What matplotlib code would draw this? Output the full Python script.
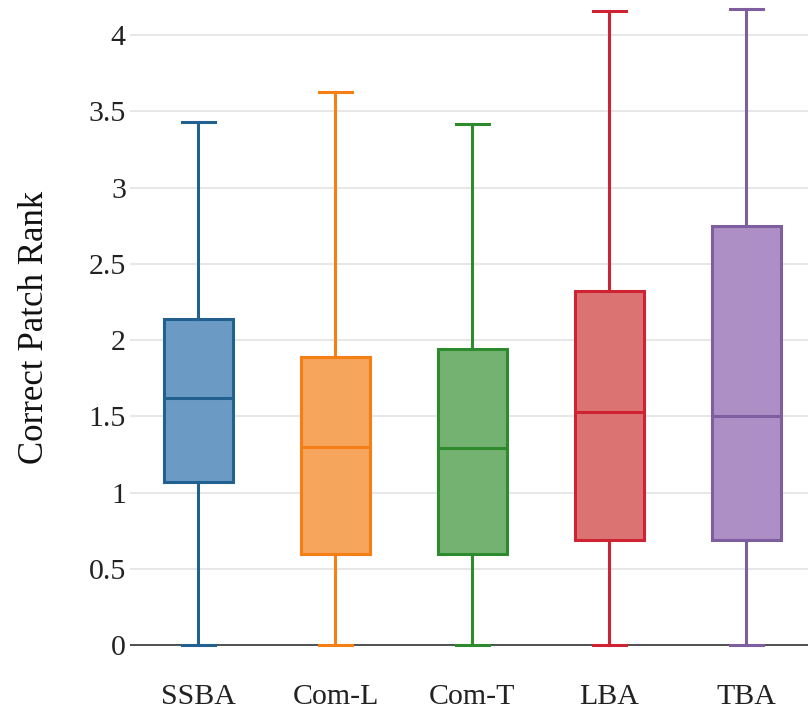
import matplotlib
matplotlib.use("Agg")
import matplotlib.pyplot as plt

categories = ["SSBA", "Com-L", "Com-T", "LBA", "TBA"]
whisker_low = [0.0, 0.0, 0.0, 0.0, 0.0]
q1 = [1.07, 0.60, 0.60, 0.69, 0.69]
median = [1.62, 1.30, 1.29, 1.53, 1.50]
q3 = [2.14, 1.89, 1.94, 2.32, 2.75]
whisker_high = [3.43, 3.63, 3.42, 4.16, 4.17]
yticks = [0, 0.5, 1, 1.5, 2, 2.5, 3, 3.5, 4]
ytick_labels = ["0", "0.5", "1", "1.5", "2", "2.5", "3", "3.5", "4"]

fill_colors = ["#6b9bc5", "#f5a55c", "#73b271", "#dc7373", "#ad8fc6"]
edge_colors = ["#21608f", "#f57f14", "#2d8a2d", "#cf2333", "#7f5ea0"]

plt.rcParams["font.family"] = ["Liberation Serif", "DejaVu Serif"]

fig = plt.figure(figsize=(8.08, 7.18), dpi=100)
ax = fig.add_axes([130 / 808, 1 - 655 / 718, 1 - 130 / 808, 655 / 718])

stats = []
for i, c in enumerate(categories):
    stats.append(dict(label=c, whislo=whisker_low[i], q1=q1[i], med=median[i],
                      q3=q3[i], whishi=whisker_high[i], fliers=[]))

positions = list(range(len(categories)))
bp = ax.bxp(stats, positions=positions, widths=0.5, patch_artist=True,
            showfliers=False, zorder=3)
for i in range(len(categories)):
    bp["boxes"][i].set_facecolor(fill_colors[i])
    bp["boxes"][i].set_edgecolor(edge_colors[i])
    bp["boxes"][i].set_linewidth(2.2)
    bp["medians"][i].set_color(edge_colors[i])
    bp["medians"][i].set_linewidth(2.2)
    for w in bp["whiskers"][2 * i:2 * i + 2]:
        w.set_color(edge_colors[i])
        w.set_linewidth(2.2)
    for cp in bp["caps"][2 * i:2 * i + 2]:
        cp.set_color(edge_colors[i])
        cp.set_linewidth(2.2)
        x = cp.get_xdata()
        cx = (x[0] + x[1]) / 2
        cp.set_xdata([cx - 0.12, cx + 0.12])

ax.set_xlim(-0.5, 4.45)
ax.set_ylim(-0.065, 4.23)
ax.set_yticks(yticks)
ax.set_yticklabels(ytick_labels)
ax.set_xticks(positions)
ax.set_xticklabels(categories)
ax.tick_params(axis="both", length=0, labelsize=21.5, colors="#222222")
ax.tick_params(axis="y", pad=3)
ax.tick_params(axis="x", pad=21)
for s in ax.spines.values():
    s.set_visible(False)
ax.grid(axis="y", color="#e3e3e3", linewidth=1.2, zorder=0)
ax.axhline(0, color="#444444", linewidth=1.3, zorder=2)
ax.set_ylabel("Correct Patch Rank", fontsize=25, color="#111111", labelpad=27)

fig.savefig("out.png", dpi=100)
